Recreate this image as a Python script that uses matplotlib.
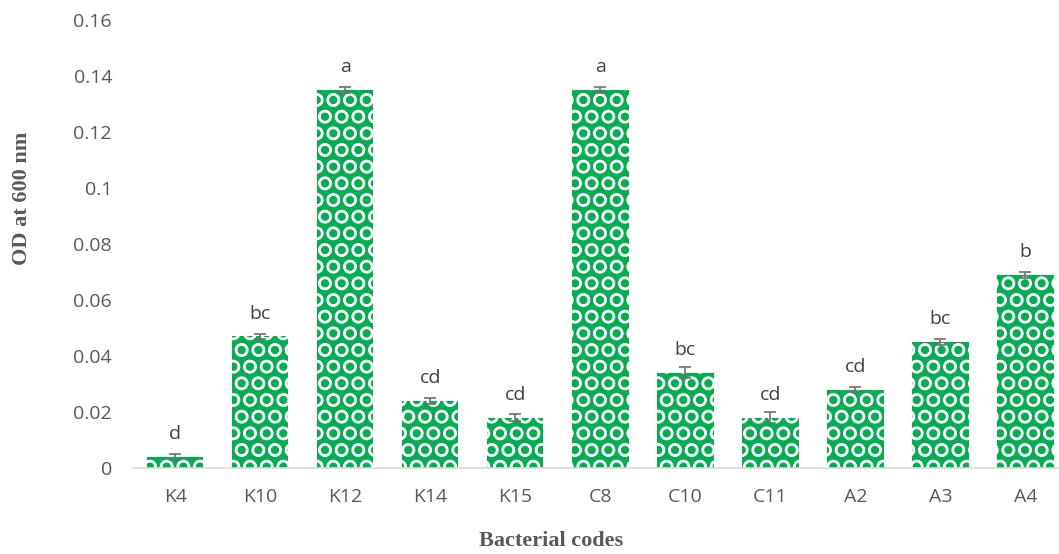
import numpy as np
import matplotlib.pyplot as plt

# OD600 of each bacterial isolate, with SE and significance letters
codes = ['K4', 'K10', 'K12', 'K14', 'K15', 'C8', 'C10', 'C11', 'A2', 'A3', 'A4']
od600 = [0.004, 0.047, 0.135, 0.024, 0.018, 0.135, 0.034, 0.018, 0.028, 0.045, 0.069]
od_err = [0.001, 0.001, 0.001, 0.001, 0.0012, 0.001, 0.002, 0.002, 0.001, 0.001, 0.001]
letters = ['d', 'bc', 'a', 'cd', 'cd', 'a', 'bc', 'cd', 'cd', 'bc', 'b']

plt.rcParams['hatch.color'] = 'white'
plt.rcParams['hatch.linewidth'] = 1.6

fig = plt.figure(figsize=(10.59, 5.54), dpi=100)
ax = fig.add_axes([0.1255, 0.155, 0.883, 0.809])

x = np.arange(len(codes))
bars = ax.bar(x, od600, width=0.66, color='#00b04f', hatch='O', linewidth=0, zorder=2)
ax.errorbar(x, od600, yerr=od_err, fmt='none', ecolor='#6f6f6f', elinewidth=1.2,
            capsize=4, capthick=1.2, zorder=3)

for xi, v, lab in zip(x, od600, letters):
    ax.annotate(lab, (xi, v), xytext=(0, 10), textcoords='offset points',
                ha='center', va='bottom', fontsize=14, color='#404040',
                family='Open Sans')

ax.set_xlim(-0.5, len(codes) - 0.5)
ax.set_ylim(0, 0.16)
ax.set_yticks(np.arange(0, 0.161, 0.02))
ax.set_yticklabels(['0', '0.02', '0.04', '0.06', '0.08', '0.1', '0.12', '0.14', '0.16'])
ax.set_xticks(x)
ax.set_xticklabels(codes)

for lbl in ax.get_xticklabels() + ax.get_yticklabels():
    lbl.set_family('Open Sans')
    lbl.set_fontsize(14)
    lbl.set_color('#595959')

ax.tick_params(axis='both', length=0)
ax.tick_params(axis='y', pad=15)
ax.tick_params(axis='x', pad=14)

for side in ['top', 'right', 'left']:
    ax.spines[side].set_visible(False)
ax.spines['bottom'].set_color('#d9d9d9')
ax.spines['bottom'].set_linewidth(1.2)

ax.set_ylabel('OD at 600 nm', family='Liberation Serif', fontweight='bold',
              fontsize=16, color='#595959')
ax.set_xlabel('Bacterial codes', family='Liberation Serif', fontweight='bold',
              fontsize=16, color='#595959')
ax.yaxis.set_label_coords(-0.108, 0.603)
ax.xaxis.set_label_coords(0.447, -0.14)

fig.savefig('out.png', dpi=100)
